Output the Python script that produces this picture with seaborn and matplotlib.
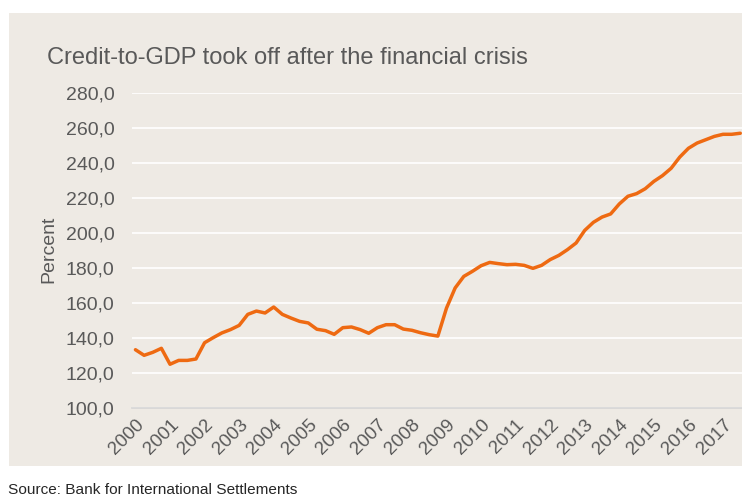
import matplotlib
matplotlib.use("Agg")
import matplotlib.pyplot as plt
import matplotlib.transforms as mtransforms
import seaborn as sns
import pandas as pd
from matplotlib.patches import Rectangle

title = "Credit-to-GDP took off after the financial crisis"
source = "Source: Bank for International Settlements"
y_label = "Percent"
years = [str(y) for y in range(2000, 2018)]
credit_to_gdp = [
    133.3, 130.1, 131.8, 134.1, 125.0, 127.2, 127.2, 128.0,
    137.3, 140.2, 142.9, 144.8, 147.2, 153.5, 155.4, 154.3,
    157.7, 153.5, 151.4, 149.5, 148.6, 145.0, 144.2, 142.1,
    145.9, 146.3, 144.8, 142.7, 145.9, 147.6, 147.6, 145.1,
    144.4, 143.0, 141.9, 141.1,
    157.1, 168.6, 175.2, 178.1, 181.3, 183.2, 182.5, 181.9,
    182.1, 181.5, 179.8, 181.5, 184.8, 187.2, 190.5, 194.3,
    201.5, 206.1, 209.1, 210.9, 216.6, 221.0, 222.5, 225.3,
    229.5, 232.8, 237.0, 243.4, 248.4, 251.4, 253.3, 255.2,
    256.4, 256.4, 257.0,
]
y_ticks = [100, 120, 140, 160, 180, 200, 220, 240, 260, 280]

df = pd.DataFrame({"q": range(len(credit_to_gdp)), "value": credit_to_gdp})

sns.set_style("white")
plt.rcParams["font.family"] = ["Liberation Sans", "DejaVu Sans"]

W, H = 742, 497
fig = plt.figure(figsize=(W / 100, H / 100), dpi=100, facecolor="white")
bg = "#EEEAE4"
fig.patches.append(Rectangle((9 / W, 1 - 466 / H), 1 - 9 / W, (466 - 13) / H,
                             transform=fig.transFigure, facecolor=bg,
                             edgecolor="none", zorder=-5))

ax = fig.add_axes([132 / W, 1 - 408 / H, 1 - 132 / W, (408 - 93) / H])
ax.set_facecolor(bg)
sns.lineplot(data=df, x="q", y="value", ax=ax, color="#EE6A12", linewidth=2.5)

ax.set_ylim(100, 280)
ax.set_xlim(-0.4, 70.2)
ax.set_yticks(y_ticks)
ax.set_yticklabels([f"{v:.1f}".replace(".", ",") for v in y_ticks],
                   fontsize=14, color="#595959")
ax.set_xticks(range(0, 72, 4))
ax.set_xticklabels(years, rotation=45, ha="right", rotation_mode="anchor",
                   fontsize=13.5, color="#595959")
offset = mtransforms.ScaledTranslation(-4 / 100, 0, fig.dpi_scale_trans)
for lbl in ax.get_xticklabels():
    lbl.set_transform(lbl.get_transform() + offset)
ax.tick_params(axis="y", length=0, pad=12.5)
ax.tick_params(axis="x", length=0, pad=6)
ax.grid(axis="y", color="white", linewidth=1.2)
ax.set_axisbelow(True)
for s in ["top", "right", "left"]:
    ax.spines[s].set_visible(False)
ax.spines["bottom"].set_color("#D5D5D5")
ax.spines["bottom"].set_linewidth(1.2)
ax.set_xlabel("")
ax.set_ylabel(y_label, fontsize=14, color="#595959")
ax.yaxis.set_label_coords((57 - 132) / (W - 132), (408 - 249) / (408 - 93))

fig.text(47 / W, 1 - 58 / H, title, fontsize=17, color="#595959",
         ha="left", va="center")
fig.text(8 / W, 1 - 490 / H, source, fontsize=11.1, color="#262626",
         ha="left", va="center")

fig.savefig("out.png", dpi=100, facecolor="white")
